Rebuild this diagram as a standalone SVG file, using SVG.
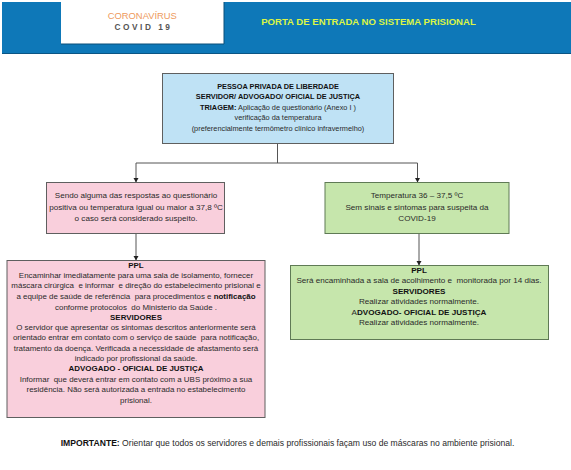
<svg xmlns="http://www.w3.org/2000/svg" width="571" height="470" viewBox="0 0 571 470">
<style>
text{font-family:"Liberation Sans",Arial,sans-serif;font-size:8.100px;fill:#2a2a2a;text-anchor:middle;white-space:pre}
.b{font-weight:bold;fill:#111}
.s{font-size:7.350px}
.m{font-size:7.950px}
.box{stroke:#5f5f5f;stroke-width:1}
.pink{fill:#f9cfdc}.green{fill:#c6e6ac;stroke:#5f7a55}.blue{fill:#bfe2f5}
.c{fill:none;stroke:#555;stroke-width:1}
</style>
<defs><marker id="a" markerWidth="5" markerHeight="6" refX="4" refY="3" orient="auto" markerUnits="userSpaceOnUse"><path d="M0 0.500L4.500 3L0 5.500Z" fill="#222"/></marker></defs>
<rect width="571" height="470" fill="#fff"/>
<g id="header">
<rect x="2" y="2" width="569" height="52" fill="#0e78b8"/>
<path d="M2 53.500H571" stroke="#0b5584" stroke-width="1"/>
<rect x="61" y="2" width="163" height="42" fill="#fff"/>
<path d="M61 44H224V2" fill="none" stroke="#0b4f78" stroke-width="1"/>
<text x="142.300" y="18.500" style="font-size:9.400px;fill:#ee9a5c">CORONAVÍRUS</text>
<text x="143.500" y="30" style="font-size:8.300px;font-weight:bold;fill:#555;letter-spacing:2.500px">COVID 19</text>
<text x="368.500" y="24.500" class="b" style="font-size:9.600px;fill:#dcf545">PORTA DE ENTRADA NO SISTEMA PRISIONAL</text>
</g>
<g id="connectors">
<path class="c" d="M277.500 144V163"/>
<path class="c" d="M136 163H417.500"/>
<path class="c" d="M136 163V182" marker-end="url(#a)"/>
<path class="c" d="M417.500 163V182" marker-end="url(#a)"/>
<path class="c" d="M136 233V260" marker-end="url(#a)"/>
<path class="c" d="M419 233V265" marker-end="url(#a)"/>
</g>
<g id="triagem">
<rect class="box blue" x="162.500" y="73.500" width="231" height="70"/>
<text x="278" y="89" class="b s">PESSOA PRIVADA DE LIBERDADE</text>
<text x="278" y="99" class="b s">SERVIDOR/ ADVOGADO/ OFICIAL DE JUSTIÇA</text>
<text x="278" y="110" class="s"><tspan class="b">TRIAGEM:</tspan> Aplicação de questionário (Anexo I )</text>
<text x="278" y="120" class="s">verificação da temperatura</text>
<text x="278" y="131" class="s">(preferencialmente termômetro clínico infravermelho)</text>
</g>
<g id="suspeito">
<rect class="box pink" x="46.500" y="182.500" width="178" height="51"/>
<text x="136" y="198">Sendo alguma das respostas ao questionário</text>
<text x="136" y="209.500">positiva ou temperatura igual ou maior a 37,8 ºC</text>
<text x="136" y="221">o caso será considerado suspeito.</text>
</g>
<g id="temperatura">
<rect class="box green" x="325" y="182.500" width="184" height="51"/>
<text x="417" y="198">Temperatura 36 – 37,5 ºC</text>
<text x="417" y="209.500">Sem sinais e sintomas para suspeita da</text>
<text x="417" y="221">COVID-19</text>
</g>
<g id="ppl-suspeito">
<rect class="box pink" x="7" y="260.500" width="258" height="157"/>
<text x="136" y="268" class="b m">PPL</text>
<text x="136" y="278" class="m">Encaminhar imediatamente para uma sala de isolamento, fornecer</text>
<text x="136" y="288" class="m">máscara cirúrgica  e informar  e direção do estabelecimento prisional e</text>
<text x="136" y="299" class="m">a equipe de saúde de referência  para procedimentos e <tspan class="b">notificação</tspan></text>
<text x="136" y="309.500" class="m">conforme protocolos  do Ministerio da Saúde .</text>
<text x="136" y="319.500" class="b m">SERVIDORES</text>
<text x="136" y="329.500" class="m">O servidor que apresentar os sintomas descritos anteriormente será</text>
<text x="136" y="339.500" class="m">orientado entrar em contato com o serviço de saúde  para notificação,</text>
<text x="136" y="351" class="m">tratamento da doença. Verificada a necessidade de afastamento será</text>
<text x="136" y="361" class="m">indicado por profissional da saúde.</text>
<text x="136" y="371" class="b m">ADVOGADO - OFICIAL DE JUSTIÇA</text>
<text x="136" y="382" class="m">Informar  que deverá entrar em contato com a UBS próximo a sua</text>
<text x="136" y="392" class="m">residência. Não será autorizada a entrada no estabelecimento</text>
<text x="136" y="403" class="m">prisional.</text>
</g>
<g id="ppl-normal">
<rect class="box green" x="290.500" y="265.500" width="258" height="74"/>
<text x="419" y="273" class="b">PPL</text>
<text x="419" y="283">Será encaminhada a sala de acolhimento e  monitorada por 14 dias.</text>
<text x="419" y="293.500" class="b">SERVIDORES</text>
<text x="419" y="304">Realizar atividades normalmente.</text>
<text x="419" y="314.500"><tspan>A</tspan><tspan class="b">DVOGADO- OFICIAL DE JUSTIÇA</tspan></text>
<text x="419" y="324.500">Realizar atividades normalmente.</text>
</g>
<g id="importante">
<text x="287.500" y="446" style="font-size:8.600px"><tspan class="b">IMPORTANTE:</tspan> Orientar que todos os servidores e demais profissionais façam uso de máscaras no ambiente prisional.</text>
</g>
</svg>
